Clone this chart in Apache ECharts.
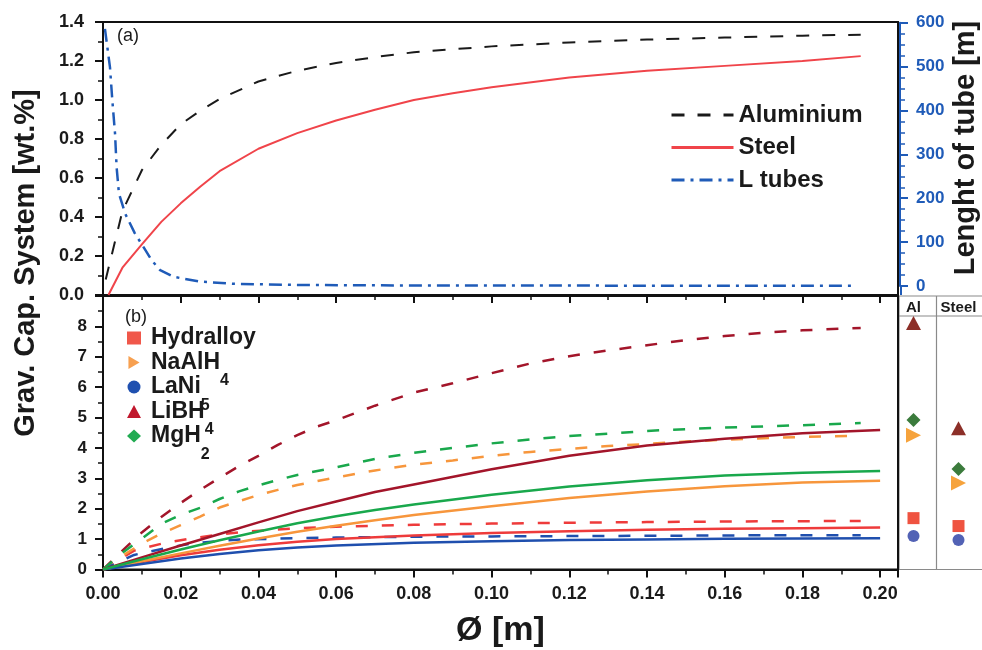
<!DOCTYPE html>
<html><head><meta charset="utf-8">
<script src="https://cdn.jsdelivr.net/npm/echarts@6/dist/echarts.min.js"></script>
<style>html,body{margin:0;padding:0;background:#fff}#c{width:982px;height:650px}</style>
</head><body><div id="c"></div>
<script>
// ---------- DATA ----------
// panel (a): gravimetric capacity of the system [wt.%] vs diameter [m]
const aluminium = [[0.0007,0.08],[0.005,0.43],[0.01,0.64],[0.015,0.77],[0.02,0.875],[0.025,0.945],[0.03,1.005],[0.04,1.095],[0.05,1.15],[0.06,1.19],[0.07,1.22],[0.08,1.245],[0.10,1.275],[0.12,1.295],[0.14,1.31],[0.16,1.32],[0.18,1.33],[0.195,1.335]];
const steel = [[0.0014,0],[0.005,0.14],[0.01,0.26],[0.015,0.375],[0.02,0.47],[0.025,0.555],[0.03,0.635],[0.04,0.75],[0.05,0.83],[0.06,0.895],[0.07,0.95],[0.08,1.0],[0.09,1.035],[0.10,1.065],[0.12,1.115],[0.14,1.15],[0.16,1.175],[0.18,1.2],[0.195,1.225]];
// length of tube [m]
const lTubes = [[0.0005,586],[0.0018,498],[0.0024,423],[0.0031,347],[0.0035,271],[0.0041,211],[0.0057,165],[0.0082,120],[0.0104,89],[0.0125,59],[0.0147,36],[0.0181,21],[0.025,10],[0.0335,5],[0.05,2.5],[0.07,1.5],[0.10,1],[0.14,0.8],[0.193,0.6]];

// panel (b): aluminium tubes (dashed)
const hydralloyAl = [[0,0],[0.008,0.62],[0.016,0.88],[0.023,1.03],[0.03,1.15],[0.036,1.24],[0.043,1.30],[0.05,1.36],[0.06,1.41],[0.07,1.44],[0.08,1.47],[0.10,1.51],[0.12,1.54],[0.14,1.56],[0.16,1.58],[0.18,1.59],[0.195,1.60]];
const naalh4Al = [[0,0],[0.005,0.45],[0.01,0.85],[0.015,1.18],[0.02,1.46],[0.025,1.74],[0.03,2.04],[0.035,2.25],[0.04,2.45],[0.045,2.62],[0.05,2.78],[0.06,3.03],[0.07,3.26],[0.08,3.45],[0.09,3.59],[0.10,3.74],[0.11,3.87],[0.12,3.97],[0.13,4.06],[0.14,4.13],[0.15,4.21],[0.16,4.27],[0.17,4.32],[0.18,4.36],[0.195,4.40]];
const lani5Al = [[0,0],[0.008,0.48],[0.016,0.70],[0.023,0.86],[0.03,0.94],[0.036,0.99],[0.05,1.03],[0.06,1.05],[0.08,1.08],[0.10,1.09],[0.12,1.10],[0.14,1.11],[0.16,1.12],[0.18,1.13],[0.195,1.13]];
const libh4Al = [[0,0],[0.005,0.62],[0.01,1.22],[0.015,1.73],[0.02,2.19],[0.025,2.62],[0.03,3.02],[0.035,3.40],[0.04,3.74],[0.045,4.10],[0.05,4.42],[0.055,4.70],[0.06,4.91],[0.065,5.15],[0.07,5.39],[0.08,5.82],[0.09,6.13],[0.10,6.46],[0.11,6.78],[0.12,7.02],[0.13,7.21],[0.14,7.38],[0.15,7.55],[0.16,7.68],[0.17,7.79],[0.18,7.87],[0.195,7.95]];
const mgh2Al = [[0,0],[0.005,0.55],[0.01,1.02],[0.015,1.50],[0.02,1.80],[0.025,2.03],[0.03,2.32],[0.035,2.57],[0.04,2.77],[0.045,2.95],[0.05,3.11],[0.06,3.36],[0.07,3.64],[0.08,3.84],[0.09,4.00],[0.10,4.15],[0.11,4.28],[0.12,4.39],[0.13,4.47],[0.14,4.56],[0.15,4.62],[0.16,4.67],[0.17,4.71],[0.18,4.75],[0.195,4.82]];
// panel (b): steel tubes (solid)
const hydralloySt = [[0,0],[0.01,0.25],[0.02,0.47],[0.03,0.65],[0.04,0.80],[0.05,0.91],[0.06,1.00],[0.08,1.12],[0.10,1.20],[0.12,1.26],[0.14,1.31],[0.16,1.34],[0.18,1.36],[0.20,1.38]];
const naalh4St = [[0,0],[0.01,0.27],[0.02,0.53],[0.03,0.78],[0.04,1.02],[0.05,1.24],[0.06,1.44],[0.07,1.62],[0.08,1.79],[0.10,2.08],[0.12,2.35],[0.14,2.57],[0.16,2.74],[0.18,2.86],[0.20,2.92]];
const lani5St = [[0,0],[0.01,0.18],[0.02,0.36],[0.03,0.51],[0.04,0.63],[0.05,0.72],[0.06,0.79],[0.08,0.88],[0.10,0.93],[0.12,0.97],[0.14,0.99],[0.16,1.01],[0.18,1.02],[0.20,1.03]];
const libh4St = [[0,0],[0.01,0.40],[0.02,0.79],[0.03,1.17],[0.04,1.55],[0.05,1.92],[0.06,2.24],[0.07,2.55],[0.08,2.80],[0.10,3.30],[0.12,3.74],[0.14,4.08],[0.16,4.30],[0.18,4.48],[0.20,4.59]];
const mgh2St = [[0,0],[0.01,0.34],[0.02,0.66],[0.03,0.96],[0.04,1.25],[0.05,1.52],[0.06,1.75],[0.07,1.96],[0.08,2.14],[0.10,2.46],[0.12,2.73],[0.14,2.94],[0.16,3.09],[0.18,3.18],[0.20,3.24]];

// side panel: max values for Al and Steel
const sideCols = ['Al', 'Steel'];
const hydralloyMax = [1.69, 1.43];
const naalh4Max = [4.42, 2.85];
const lani5Max = [1.10, 0.97];
const libh4Max = [8.11, 4.65];
const mgh2Max = [4.92, 3.31];

const materials = ['Hydralloy', 'NaAlH4', 'LaNi5', 'LiBH4', 'MgH2'];

// ---------- STYLE ----------
const FONT = 'Liberation Sans, Arial, sans-serif';
const TXT = '#1a1a1a';
const BLUE = '#1f5bb8';
const XMAX = 0.2046;

const lineCol = {Hydralloy:'#ee3b3b', NaAlH4:'#f7963c', LaNi5:'#1f4fae', LiBH4:'#a3152a', MgH2:'#19a84c'};
const legCol = {Hydralloy:'#f0574a', NaAlH4:'#f7a050', LaNi5:'#1f50b0', LiBH4:'#c1182d', MgH2:'#21ab52'};
const markCol = {Hydralloy:'#ef5340', NaAlH4:'#f6a33c', LaNi5:'#5262b5', LiBH4:'#8c2f28', MgH2:'#3b7b3c'};
const TRI_R = 'path://M0,0L12,7L0,14Z';
const icon = {Hydralloy:'rect', NaAlH4:TRI_R, LaNi5:'circle', LiBH4:'triangle', MgH2:'diamond'};
const markSize = {Hydralloy:12, NaAlH4:[15,15], LaNi5:12, LiBH4:[15,14], MgH2:14};
const richName = {Hydralloy:'{m|Hydralloy}{s| }', NaAlH4:'{m|NaAlH}{s|4}', LaNi5:'{m|LaNi}{s|5}', LiBH4:'{m|LiBH}{s|4}', MgH2:'{m|MgH}{s|2}'};

const alData = {Hydralloy:hydralloyAl, NaAlH4:naalh4Al, LaNi5:lani5Al, LiBH4:libh4Al, MgH2:mgh2Al};
const stData = {Hydralloy:hydralloySt, NaAlH4:naalh4St, LaNi5:lani5St, LiBH4:libh4St, MgH2:mgh2St};
const maxData = {Hydralloy:hydralloyMax, NaAlH4:naalh4Max, LaNi5:lani5Max, LiBH4:libh4Max, MgH2:mgh2Max};

const isMult = (v, s) => Math.abs(v / s - Math.round(v / s)) < 1e-6;

function xAx(grid, showLabels) {
  return {
    type:'value', gridIndex:grid, min:0, max:XMAX, interval:0.02,
    axisLine:{show:true, onZero:false, lineStyle:{color:'#111', width:2}},
    axisTick:{show:true, inside:false, length:8, lineStyle:{color:'#111', width:2}},
    minorTick:{show:true, splitNumber:2, length:5, lineStyle:{color:'#111', width:1.5}},
    splitLine:{show:false},
    axisLabel:{show:showLabels, margin:16, fontFamily:FONT, fontSize:18, fontWeight:'bold', color:TXT,
      formatter:v => isMult(v, 0.02) ? v.toFixed(2) : ''}
  };
}

const series = [];
series.push({name:'Aluminium', type:'line', xAxisIndex:0, yAxisIndex:0, data:aluminium, symbol:'none',
  lineStyle:{color:'#1a1a1a', width:2, type:[13,13]}, itemStyle:{color:'#1a1a1a'}});
series.push({name:'Steel', type:'line', xAxisIndex:0, yAxisIndex:0, data:steel, symbol:'none',
  lineStyle:{color:'#f0444a', width:2}, itemStyle:{color:'#f0444a'}});
series.push({name:'L tubes', type:'line', xAxisIndex:1, yAxisIndex:1, data:lTubes, symbol:'none',
  lineStyle:{color:BLUE, width:2.5, type:[13,6,3,6]}, itemStyle:{color:BLUE}});

materials.forEach(m => {
  series.push({name:m + ' (Al)', type:'line', xAxisIndex:2, yAxisIndex:2, data:alData[m], symbol:'none',
    lineStyle:{color:lineCol[m], width:2.5, type:[12,14]}, itemStyle:{color:lineCol[m]}});
});
materials.forEach(m => {
  series.push({name:m + ' (Steel)', type:'line', xAxisIndex:2, yAxisIndex:2, data:stData[m], symbol:'none',
    lineStyle:{color:lineCol[m], width:2.5}, itemStyle:{color:lineCol[m]}});
});
materials.forEach(m => {
  series.push({name:m, type:'scatter', xAxisIndex:3, yAxisIndex:3, data:maxData[m],
    symbol:icon[m], symbolSize:markSize[m], itemStyle:{color:markCol[m], opacity:1}});
});

const option = {
  animation:false,
  backgroundColor:'#fff',
  textStyle:{fontFamily:FONT},
  title:[
    {text:'(a)', left:117, top:27, padding:0, textStyle:{fontFamily:FONT, fontSize:18, fontWeight:'normal', color:TXT}},
    {text:'(b)', left:125, top:308, padding:0, textStyle:{fontFamily:FONT, fontSize:18, fontWeight:'normal', color:TXT}}
  ],
  grid:[
    {left:103, right:84, top:22, height:273, show:true, borderColor:'#111', borderWidth:2},
    {left:103, right:84, top:22.7, height:263.3},
    {left:103, right:84, top:296, height:273.5, show:true, borderColor:'#111', borderWidth:2},
    {left:891, right:1, top:296, height:273.5}
  ],
  xAxis:[
    xAx(0, false),
    Object.assign(xAx(1, false), {show:false}),
    Object.assign(xAx(2, true), {name:'Ø [m]', nameLocation:'middle', nameGap:44,
      nameTextStyle:{fontFamily:FONT, fontSize:34, fontWeight:'bold', color:TXT}}),
    {type:'category', gridIndex:3, data:sideCols, position:'top', boundaryGap:true,
      axisLine:{show:false}, axisTick:{show:false}, splitLine:{show:false},
      axisLabel:{inside:true, interval:0, hideOverlap:false, margin:4, fontFamily:FONT, fontSize:15, fontWeight:'bold', color:TXT}}
  ],
  yAxis:[
    {type:'value', gridIndex:0, min:0, max:1.4, interval:0.2,
      axisLine:{show:true, onZero:false, lineStyle:{color:'#111', width:2}},
      axisTick:{show:true, length:8, lineStyle:{color:'#111', width:2}},
      minorTick:{show:true, splitNumber:2, length:5, lineStyle:{color:'#111', width:1.5}},
      splitLine:{show:false},
      axisLabel:{margin:19, fontFamily:FONT, fontSize:18, fontWeight:'bold', color:TXT, formatter:v => v.toFixed(1)}},
    {type:'value', gridIndex:1, position:'right', offset:2, min:0, max:600, interval:100,
      axisLine:{show:true, onZero:false, lineStyle:{color:BLUE, width:2}},
      axisTick:{show:true, length:8, lineStyle:{color:BLUE, width:2}},
      minorTick:{show:true, splitNumber:4, length:5, lineStyle:{color:BLUE, width:1.5}},
      splitLine:{show:false},
      axisLabel:{margin:16, fontFamily:FONT, fontSize:17, fontWeight:'bold', color:BLUE}},
    {type:'value', gridIndex:2, min:0, max:9, interval:1,
      axisLine:{show:true, onZero:false, lineStyle:{color:'#111', width:2}},
      axisTick:{show:true, length:8, lineStyle:{color:'#111', width:2}},
      minorTick:{show:true, splitNumber:2, length:5, lineStyle:{color:'#111', width:1.5}},
      splitLine:{show:false},
      axisLabel:{margin:16, fontFamily:FONT, fontSize:17, fontWeight:'bold', color:TXT, formatter:v => v <= 8 ? String(v) : ''}},
    {type:'value', gridIndex:3, min:0, max:9, show:false}
  ],
  legend:[
    {data:['Aluminium','Steel','L tubes'], orient:'vertical', left:670, top:102, padding:0,
      itemWidth:62, itemHeight:14, itemGap:6.5, selectedMode:false,
      lineStyle:{width:3}, itemStyle:{opacity:0},
      textStyle:{fontFamily:FONT, fontSize:24, fontWeight:'bold', color:TXT, lineHeight:26}},
    {data:materials.map(m => ({name:m, icon:icon[m], itemStyle:{color:legCol[m]}})),
      orient:'vertical', left:127, top:311.5, padding:0, itemWidth:14, itemHeight:13, itemGap:-28.5, selectedMode:false,
      formatter:n => richName[n],
      textStyle:{fontFamily:FONT, fontSize:23, fontWeight:'bold', color:TXT,
        rich:{m:{fontFamily:FONT, fontSize:23, fontWeight:'bold', color:TXT, lineHeight:53, padding:[0,0,0,5]},
              s:{fontFamily:FONT, fontSize:16, fontWeight:'bold', color:TXT, lineHeight:16, padding:[37,0,0,0]}}}}
  ],
  graphic:[
    {type:'text', x:26, y:263, rotation:Math.PI/2, style:{text:'Grav. Cap. System [wt.%]', font:'bold 29px ' + FONT, fill:TXT, textAlign:'center', textVerticalAlign:'middle'}},
    {type:'text', x:966, y:148, rotation:Math.PI/2, style:{text:'Lenght of tube [m]', font:'bold 29px ' + FONT, fill:TXT, textAlign:'center', textVerticalAlign:'middle'}},
    {type:'line', shape:{x1:901, y1:286, x2:901, y2:295}, style:{stroke:BLUE, lineWidth:2}},
    {type:'rect', shape:{x:899, y:296, width:90, height:273.5}, style:{fill:null, stroke:'#8a8a8a', lineWidth:1.2}, z:-1},
    {type:'line', shape:{x1:936.5, y1:296, x2:936.5, y2:569.5}, style:{stroke:'#8a8a8a', lineWidth:1.2}},
    {type:'line', shape:{x1:899, y1:316, x2:982, y2:316}, style:{stroke:'#8a8a8a', lineWidth:1.2}}
  ],
  series:series
};

const chart = echarts.init(document.getElementById('c'), null, {renderer:'canvas'});
chart.setOption(option);
</script>
</body></html>
